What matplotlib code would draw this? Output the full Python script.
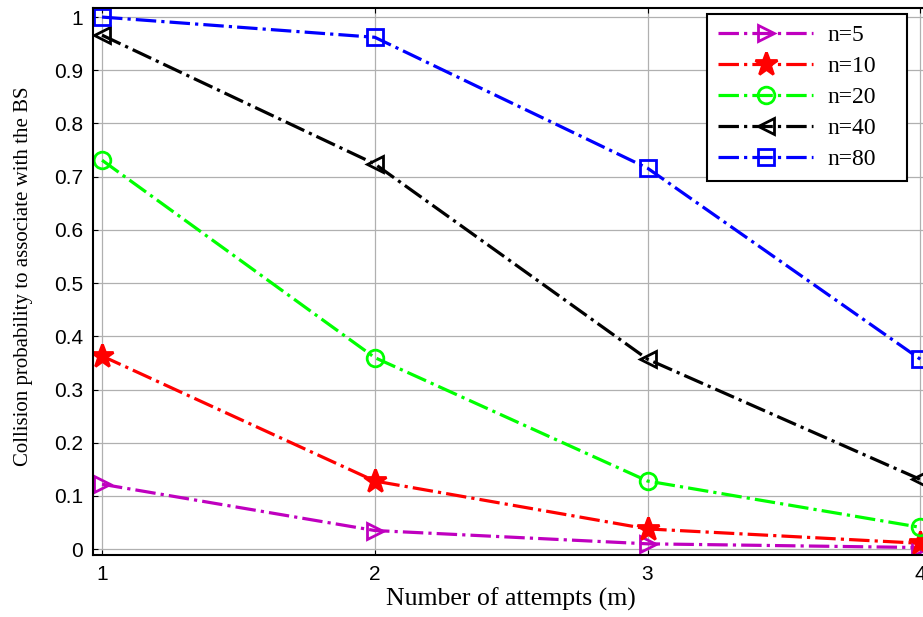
import matplotlib.pyplot as plt

attempts = [1, 2, 3, 4]
p_n5 = [0.122, 0.035, 0.010, 0.003]
p_n10 = [0.363, 0.128, 0.038, 0.011]
p_n20 = [0.731, 0.360, 0.128, 0.041]
p_n40 = [0.966, 0.724, 0.357, 0.131]
p_n80 = [1.000, 0.962, 0.716, 0.357]

series = [
    (p_n5, 'n=5', (0.75, 0, 0.75), '>'),
    (p_n10, 'n=10', 'red', '*'),
    (p_n20, 'n=20', (0, 1, 0), 'o'),
    (p_n40, 'n=40', 'black', '<'),
    (p_n80, 'n=80', 'blue', 's'),
]

fig = plt.figure(figsize=(9.23, 6.17), dpi=100)
ax = fig.add_axes([0.1008, 0.1005, 0.906, 0.8865])

for vals, lab, col, mk in series:
    ms = 17 if mk == '*' else 12
    ax.plot(attempts, vals, linestyle='-.', color=col, lw=2.3, marker=mk,
            markersize=ms, markerfacecolor='none' if mk != '*' else col,
            markeredgewidth=2, label=lab)

ax.set_xlim(0.967, 4.033)
ax.set_ylim(-0.011, 1.017)
ax.set_xticks(attempts)
ax.set_yticks([i / 10 for i in range(11)])
ax.set_yticklabels(['0'] + ['0.%d' % i for i in range(1, 10)] + ['1'])
ax.grid(True, color='#b0b0b0', lw=0.9)
ax.tick_params(direction='in', top=True, right=True, labelsize=15, pad=7)
for lab in ax.get_xticklabels() + ax.get_yticklabels():
    lab.set_family('Liberation Sans')
for sp in ax.spines.values():
    sp.set_linewidth(1.5)

ax.set_xlabel('Number of attempts (m)', family='Liberation Serif', fontsize=18.5, labelpad=3)
ax.set_ylabel('Collision probability to associate with the BS', family='Liberation Serif', fontsize=15)
ax.yaxis.set_label_coords(-0.072, 0.51)

# legend box stretched to the reference width
leg = ax.legend(loc='upper left', bbox_to_anchor=(0.7344, 0.5, 0.2392, 0.489), mode='expand',
                prop={'family': 'Liberation Serif', 'size': 17},
                fancybox=False, edgecolor='black', framealpha=1, handlelength=4.05, handletextpad=0.6,
                borderpad=0.45, labelspacing=0.4, borderaxespad=0)
leg.get_frame().set_linewidth(1.5)

fig.savefig('out.png', dpi=100)
